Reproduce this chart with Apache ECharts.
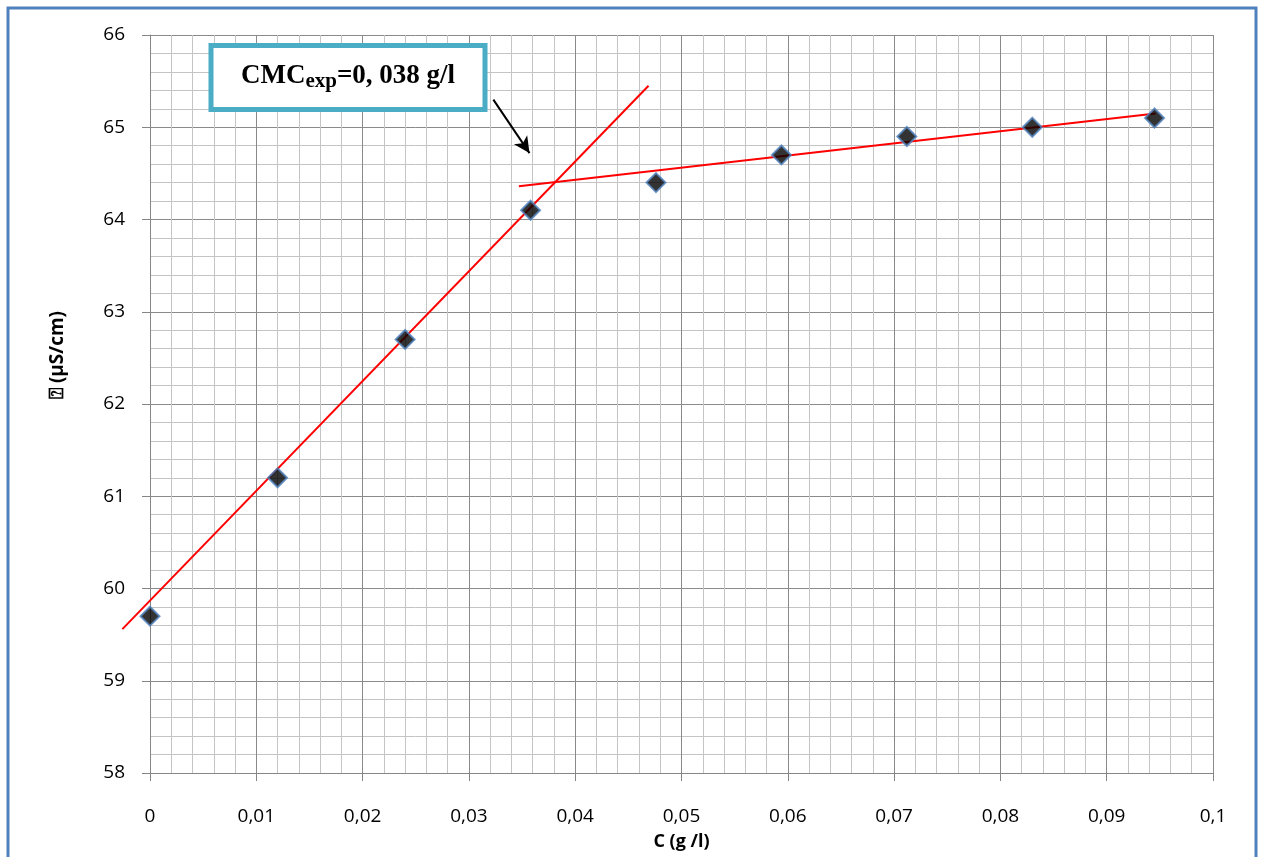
<!DOCTYPE html>
<html><head><meta charset="utf-8">
<script src="https://cdn.jsdelivr.net/npm/echarts@6/dist/echarts.min.js"></script>
<style>html,body{margin:0;padding:0;background:#fff}#c{width:1261px;height:857px}</style>
</head><body><div id="c"></div>
<script>
const concentration = [0, 0.012, 0.024, 0.0358, 0.0476, 0.0594, 0.0712, 0.083, 0.0945];
const conductivity = [59.7, 61.2, 62.7, 64.1, 64.4, 64.7, 64.9, 65.0, 65.1];
const fitLine1 = [[-0.0026, 59.56], [0.0469, 65.45]];
const fitLine2 = [[0.0347, 64.36], [0.0946, 65.15]];
const arrowLine = [[0.0323, 65.30], [0.0357, 64.72]];
const xName = 'C (g /l)';
const yName = '\u2370 (µS/cm)';
const annotation = ['CMC', 'exp', '=0, 038 g/l'];

const chart = echarts.init(document.getElementById('c'));
const fmt = v => String(Math.round(v * 1000) / 1000).replace('.', ',');

function segmentSeries(pts, color) {
  return {
    type: 'custom', clip: false, z: 3,
    data: [[pts[0][0], pts[0][1], pts[1][0], pts[1][1]]],
    renderItem: (params, api) => {
      const p1 = api.coord([api.value(0), api.value(1)]);
      const p2 = api.coord([api.value(2), api.value(3)]);
      return {type: 'line', shape: {x1: p1[0], y1: p1[1], x2: p2[0], y2: p2[1]},
              style: {stroke: color, lineWidth: 2}};
    },
    encode: {x: [0, 2], y: [1, 3]}
  };
}

chart.setOption({
  animation: false,
  grid: {left: 150, right: 48, top: 35, bottom: 84, show: false},
  xAxis: {
    type: 'value', min: 0, max: 0.1, interval: 0.01,
    name: xName, nameLocation: 'middle', nameGap: 60,
    nameTextStyle: {fontFamily: 'Open Sans', fontWeight: 'bold', fontSize: 18, color: '#000'},
    axisLine: {show: true, onZero: false, lineStyle: {color: '#868686', width: 1}},
    axisTick: {show: true, length: 8, lineStyle: {color: '#868686'}},
    axisLabel: {formatter: fmt, fontFamily: 'Open Sans', fontSize: 19, color: '#000', margin: 34},
    splitLine: {show: true, lineStyle: {color: '#8a8a8a', width: 1}},
    minorTick: {show: false, splitNumber: 5},
    minorSplitLine: {show: true, lineStyle: {color: '#c4c4c4', width: 1}}
  },
  yAxis: {
    type: 'value', min: 58, max: 66, interval: 1,
    axisLine: {show: true, lineStyle: {color: '#868686', width: 1}},
    axisTick: {show: true, length: 8, lineStyle: {color: '#868686'}},
    axisLabel: {fontFamily: 'Open Sans', fontSize: 19, color: '#000', margin: 25},
    splitLine: {show: true, lineStyle: {color: '#8a8a8a', width: 1}},
    minorTick: {show: false, splitNumber: 5},
    minorSplitLine: {show: true, lineStyle: {color: '#c4c4c4', width: 1}}
  },
  graphic: [
    {type: 'rect', z: 100, silent: true, shape: {x: 8, y: 8, width: 1248, height: 870},
     style: {fill: 'none', stroke: '#4F81BD', lineWidth: 3}},
    {type: 'text', z: 100, x: 58, y: 355, rotation: Math.PI / 2,
     style: {text: yName, fontFamily: 'Open Sans', fontWeight: 'bold', fontSize: 19, fill: '#000', align: 'center', verticalAlign: 'middle'}},
    {type: 'rect', z: 100, shape: {x: 211, y: 45.5, width: 274, height: 64},
     style: {fill: '#fff', stroke: '#4BACC6', lineWidth: 5}},
    {type: 'text', z: 101, x: 348, y: 76,
     style: {
       text: '{a|' + annotation[0] + '}{b|' + annotation[1] + '}{a|' + annotation[2] + '}',
       align: 'center', verticalAlign: 'middle',
       rich: {
         a: {fontFamily: 'Liberation Serif', fontWeight: 'bold', fontSize: 27, fill: '#000', lineHeight: 30},
         b: {fontFamily: 'Liberation Serif', fontWeight: 'bold', fontSize: 21, fill: '#000', lineHeight: 30, padding: [12, 0, 0, 0]}
       }
     }}
  ],
  series: [
    segmentSeries(fitLine1, '#FF0000'),
    segmentSeries(fitLine2, '#FF0000'),
    {type: 'line', data: [], symbol: 'none',
     markLine: {silent: true, symbol: ['none', 'arrow'], symbolSize: [12, 16], label: {show: false},
       lineStyle: {color: '#000', width: 2, type: 'solid'},
       data: [[{coord: arrowLine[0]}, {coord: arrowLine[1]}]]}},
    {type: 'scatter', data: concentration.map((x, i) => [x, conductivity[i]]), clip: false, z: 5,
     symbol: 'diamond', symbolSize: 19,
     itemStyle: {color: '#000', borderColor: '#4F81BD', borderWidth: 2}}
  ]
});
</script></body></html>
